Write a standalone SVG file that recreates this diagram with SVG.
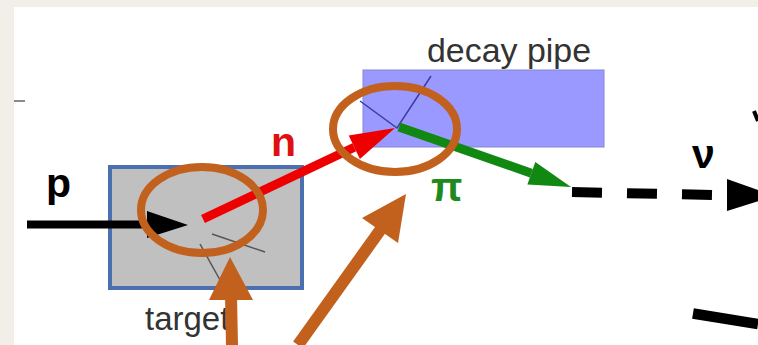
<svg xmlns="http://www.w3.org/2000/svg" width="758" height="345" viewBox="0 0 758 345">
  <style>
    .lbl { font-family: "Liberation Sans", Arial, sans-serif; }
    .box-label { font-size: 33px; fill: #333333; }
    .particle { font-size: 41px; font-weight: bold; }
    .hl { fill: none; stroke: #c1611d; stroke-width: 8; }
    .orange { fill: #c1611d; }
    .thin-t { stroke: #555555; stroke-width: 1.5; fill: none; }
    .thin-d { stroke: #3c3c9c; stroke-width: 1.5; fill: none; }
  </style>
  <rect x="0" y="0" width="758" height="345" fill="#f2eee8"/>
  <rect x="14" y="7" width="744" height="338" fill="#ffffff"/>
  <line x1="14" y1="101" x2="25" y2="101" stroke="#8a8a8a" stroke-width="2"/>

  <g id="target">
    <rect x="110" y="167" width="192" height="121" fill="#c0c0c0" stroke="#4a70b0" stroke-width="4"/>
    <line class="thin-t" x1="212" y1="234" x2="265" y2="252"/>
    <line class="thin-t" x1="200" y1="244" x2="220" y2="280"/>
    <text class="lbl box-label" x="145" y="330">target</text>
  </g>

  <g id="decay-pipe">
    <rect x="363" y="70" width="241" height="77" fill="#9999ff" stroke="#8585d5" stroke-width="1"/>
    <polyline class="thin-d" points="360,101 397,128 431,76"/>
    <text class="lbl box-label" x="427" y="62" textLength="164" lengthAdjust="spacingAndGlyphs">decay pipe</text>
  </g>

  <g id="labels">
    <text class="lbl particle" x="46" y="197" fill="#000000" font-size="40">p</text>
    <text class="lbl particle" x="271" y="156" fill="#e01010">n</text>
    <text class="lbl particle" x="431" y="201" fill="#1e8a1e">π</text>
    <text class="lbl particle" x="692" y="168" fill="#000000" font-size="47">ν</text>
  </g>

  <g id="connectors">
    <!-- proton -->
    <line x1="27" y1="224.5" x2="150" y2="224.5" stroke="#000000" stroke-width="8"/>
    <polygon points="147,211 188,225 147,238" fill="#000000"/>
    <!-- neutron -->
    <line x1="203" y1="219" x2="354.3" y2="147.3" stroke="#ee0000" stroke-width="9"/>
    <polygon points="359.9,159 395,128 348.7,135.5" fill="#ee0000"/>
    <!-- pion -->
    <line x1="399" y1="127" x2="531.4" y2="173.2" stroke="#118811" stroke-width="9"/>
    <polygon points="527.4,184.5 571,187 535.3,161.9" fill="#118811"/>
    <!-- neutrino -->
    <line x1="572" y1="192" x2="712" y2="195" stroke="#000000" stroke-width="10" stroke-dasharray="30 25"/>
    <polygon points="727,179 775,196 727,211" fill="#000000"/>
  </g>

  <g id="highlights">
    <ellipse class="hl" cx="202" cy="210" rx="61" ry="43"/>
    <ellipse class="hl" cx="395" cy="129" rx="62" ry="43"/>
    <!-- vertical pointer -->
    <line x1="232" y1="345" x2="231" y2="296" stroke="#c1611d" stroke-width="12"/>
    <polygon class="orange" points="209,300 230,257 253,300"/>
    <!-- diagonal pointer -->
    <line x1="298" y1="345" x2="381" y2="229" stroke="#c1611d" stroke-width="12"/>
    <polygon class="orange" points="362,218 406,194 398,243"/>
  </g>

  <g id="marks">
    <line x1="754" y1="111" x2="758" y2="121" stroke="#000000" stroke-width="4"/>
    <line x1="693" y1="313.5" x2="758" y2="324" stroke="#000000" stroke-width="10.5"/>
  </g>
</svg>
